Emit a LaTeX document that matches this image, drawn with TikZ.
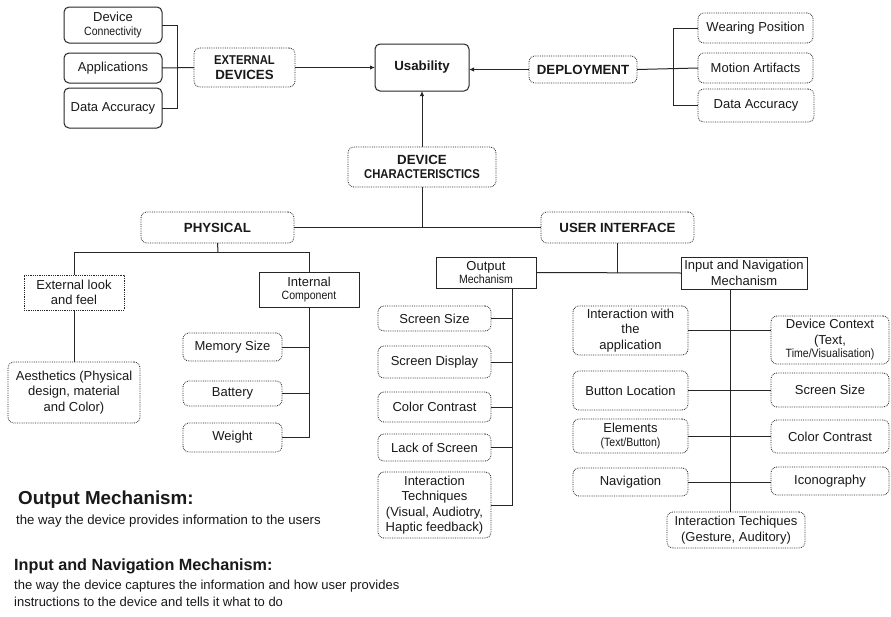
\documentclass[tikz,border=0pt]{standalone}
\usepackage{fontspec}
\usepackage{graphicx}
\setmainfont{Liberation Sans}
\usetikzlibrary{arrows.meta}
\newcommand\nar[1]{\scalebox{0.88}[1]{\fontsize{12}{13}\selectfont #1}}
\newcommand\bnar[1]{\scalebox{0.88}[1]{\fontsize{12.8}{14}\selectfont\bfseries #1}}
\newcommand\bx[7]{\node[#6, minimum width={(#4-#2)*1pt}, minimum height={(#5-#3)*1pt}] (#1) at ({(#2+#4)/2},{(#3+#5)/2}) {#7};}
\tikzset{
  base/.style={inner sep=0pt, outer sep=0pt, align=center, line width=0.8pt, draw=black!85, font=\fontsize{13}{15.5}\selectfont, text=black!90},
  solidr/.style={base, line width=1pt, rounded corners=5pt},
  solidsq/.style={base, line width=1pt},
  dotr/.style={base, densely dotted, rounded corners=6pt},
  dotsq/.style={base, densely dotted},
  link/.style={line width=1pt, draw=black!85},
  arr/.style={link, -{Latex[length=5pt,width=4.5pt]}},
}
\begin{document}
\begin{tikzpicture}[x=1pt,y=-1pt]
\useasboundingbox (0,0) rectangle (891,616);
\fill[white] (0,0) rectangle (891,616);
% top left
\bx{dcon}{64}{7}{162}{43}{solidr}{Device\\[-2pt]\nar{Connectivity}}
\bx{app}{64}{53}{162}{83}{solidr}{Applications}
\bx{dacc}{64}{88}{162}{128}{solidr}{Data Accuracy}
\bx{extd}{194}{48}{295}{87}{dotr}{\bnar{EXTERNAL}\\[-1pt]{\fontsize{13.3}{15}\selectfont\bfseries DEVICES}}
\coordinate (eb) at (177,68);
% usability
\bx{usab}{375}{44}{469}{91}{solidr}{\fontsize{13.3}{15}\selectfont\bfseries Usability}
\bx{depl}{529}{56}{637}{83}{dotr}{\fontsize{13.3}{15}\selectfont\bfseries DEPLOYMENT}
\coordinate (db) at (673,68);
\bx{wpos}{698}{13}{813}{43}{dotr}{Wearing Position}
\bx{mart}{698}{53}{813}{83}{dotr}{Motion Artifacts}
\bx{dacc2}{698}{89}{814}{122}{dotr}{Data Accuracy}
\bx{devc}{348}{147}{496}{187}{dotr}{{\fontsize{13.3}{15}\selectfont\bfseries DEVICE}\\[-1pt]\bnar{CHARACTERISCTICS}}
% level 2
\bx{phys}{141}{212}{294}{243}{dotr}{\fontsize{13.3}{15}\selectfont\bfseries PHYSICAL}
\bx{ui}{541}{212}{694}{243}{dotr}{\fontsize{13.3}{15}\selectfont\bfseries USER INTERFACE}
\coordinate (pj) at (218,252);
\bx{extl}{24}{275}{124}{310}{dotsq}{External look\\and feel}
\bx{aes}{8}{362}{140}{423}{dotr}{Aesthetics (Physical\\design, material\\and Color)}
\bx{intc}{259}{272}{359}{307}{solidsq}{Internal\\[-2pt]\nar{Component}}
\bx{mem}{183}{333}{282}{361}{dotr}{Memory Size}
\bx{bat}{183}{381}{282}{406}{dotr}{Battery}
\bx{wgt}{183}{423}{282}{452}{dotr}{Weight}
% output mechanism
\bx{om}{436}{257}{536}{288}{solidsq}{Output\\[-2pt]\nar{Mechanism}}
\coordinate (ov) at (512,288);
\bx{ss}{378}{306}{491}{331}{dotr}{Screen Size}
\bx{sd}{378}{346}{491}{378}{dotr}{Screen Display}
\bx{cc}{378}{392}{491}{422}{dotr}{Color Contrast}
\bx{ls}{378}{434}{491}{461}{dotr}{Lack of Screen}
\bx{itv}{378}{472}{491}{538}{dotr}{Interaction\\Techniques\\(Visual, Audiotry,\\Haptic feedback)}
% input and navigation
\bx{inm}{681}{257}{807}{289}{solidsq}{Input and Navigation\\Mechanism}
\coordinate (iv) at (730,289);
\bx{iwa}{573}{306}{688}{355}{dotr}{Interaction with\\the\\application}
\bx{bl}{573}{371}{688}{410}{dotr}{Button Location}
\bx{el}{573}{419}{688}{453}{dotr}{Elements\\[-2pt]\nar{(Text/Button)}}
\bx{nav}{573}{468}{688}{496}{dotr}{Navigation}
\bx{dcx}{771}{316}{889}{364}{dotr}{Device Context\\(Text,\\[-2pt]\nar{Time/Visualisation)}}
\bx{ss2}{771}{373}{889}{407}{dotr}{Screen Size}
\bx{cc2}{771}{420}{889}{453}{dotr}{Color Contrast}
\bx{ico}{771}{467}{889}{495}{dotr}{Iconography}
\bx{itg}{667}{512}{805}{548}{dotr}{Interaction Techiques\\(Gesture, Auditory)}
% connectors top
\draw[link] (dcon.east) -- (dcon.east -| eb) -- (dacc.east -| eb) -- (dacc.east);
\draw[link] (app.east) -- (extd.west);
\draw[arr] (extd.east) -- (usab.west);
\draw[arr] (depl.west) -- (depl.west -| usab.east);
\draw[link] (depl.east) -- (mart.west);
\draw[link] (wpos.west) -- (wpos.west -| db) -- (dacc2.west -| db) -- (dacc2.west);
\draw[arr] (devc.north) -- (usab.south);
\draw[link] (devc.south) -- (devc.south |- phys.east);
\draw[link] (phys.east) -- (ui.west);
% physical
\draw[link] (phys.south) -- (pj);
\draw[link] (extl.north) -- (extl.north |- pj) -- (intc.north |- pj) -- (intc.north);
\draw[link] (extl.south) -- (aes.north);
\draw[link] (intc.south) -- (intc.south |- wgt.east) -- (wgt.east);
\draw[link] (mem.east) -- (mem.east -| intc.south);
\draw[link] (bat.east) -- (bat.east -| intc.south);
% user interface
\draw[link] (ui.south) -- (ui.south |- om.east);
\draw[link] (om.east) -- (inm.west);
\draw[link] (ov) -- (ov |- itv.east) -- (itv.east);
\foreach \n in {ss,sd,cc,ls} \draw[link] (\n.east) -- (\n.east -| ov);
\draw[link] (iv) -- (iv |- itg.north);
\coordinate (r1) at (0,330);
\draw[link] (iwa.east |- r1) -- (dcx.west |- r1);
\draw[link] (bl.east) -- (bl.east -| ss2.west);
\draw[link] (el.east) -- (el.east -| cc2.west);
\draw[link] (nav.east) -- (nav.east -| ico.west);
% legend text
\node[anchor=west, inner sep=0pt, font=\fontsize{18.8}{21}\selectfont\bfseries, text=black!90] (lo) at (18,500) {Output Mechanism:};
\node[anchor=west, inner sep=0pt, font=\fontsize{13.2}{15}\selectfont, text=black!90] (lod) at (16,521) {the way the device provides information to the users};
\node[anchor=west, inner sep=0pt, font=\fontsize{16.2}{19}\selectfont\bfseries, text=black!90] (li) at (14,566) {Input and Navigation Mechanism:};
\node[anchor=north west, inner sep=0pt, align=left, font=\fontsize{13}{17}\selectfont, text=black!90] (lid) at (14,580) {the way the device captures the information and how user provides\\instructions to the device and tells it what to do};
\end{tikzpicture}
\end{document}
